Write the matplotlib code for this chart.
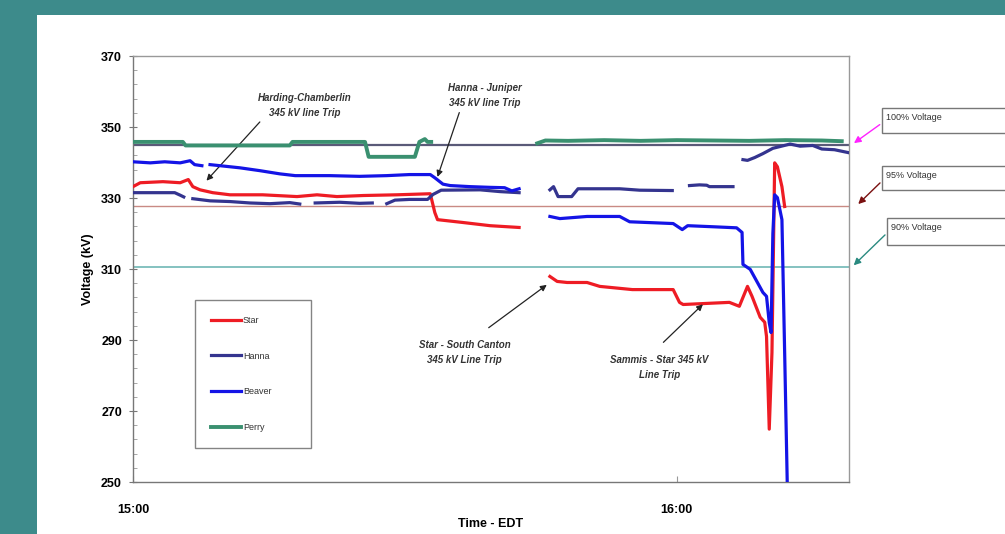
import numpy as np
import matplotlib
matplotlib.use("Agg")
import matplotlib.pyplot as plt
from matplotlib.patches import Rectangle

nan = np.nan

# time in minutes after 15:00, voltage in kV
star_t = [0, 0.8, 3.3, 5.2, 6.1, 6.6, 7.4, 8.8, 10.7, 14.3, 18.1, 20.3, 22.5, 25.4, 29.1, 32.8,
          33.3, 33.6, 36.4, 39.4, 42.6, nan,
          46.0, 46.8, 47.9, 50.1, 51.5, 55.1, 59.6, 60.3, 60.7, 65.8, 66.9, 67.8, 68.3, 69.2,
          69.7, 69.9, 70.2, 70.5, 70.8, 71.1, 71.6, 71.9]
star_v = [333.2, 334.3, 334.6, 334.3, 335.2, 333.2, 332.3, 331.5, 330.9, 330.9, 330.4, 330.9, 330.4, 330.7, 330.9, 331.2,
          325.9, 323.9, 323.1, 322.2, 321.7, nan,
          307.9, 306.5, 306.2, 306.2, 305.1, 304.2, 304.2, 300.6, 300.0, 300.6, 299.5, 305.1, 302.3, 296.4,
          295.0, 291.0, 264.9, 286.5, 339.9, 338.8, 333.2, 327.6]

hanna_t = [0, 4.6, 5.2, 5.6, nan, 6.6, 8.5, 10.7, 12.9, 15.1, 17.3, 18.4, nan, 20.1, 22.8, 25.0, 26.4, nan,
           28.0, 28.9, 30.5, 32.5, 33.1, 34.0, 38.3, 40.5, 42.6, nan,
           46.0, 46.4, 46.9, 48.4, 49.1, 53.7, 55.9, 59.5, nan,
           61.4, 62.5, 63.3, 63.6, 66.2, nan,
           67.3, 67.8, 68.6, 69.5, 70.6, 71.4, 72.5, 73.6, 75.0, 76.0, 77.4, 78.9]
hanna_v = [331.5, 331.5, 330.8, 330.3, nan, 329.8, 329.2, 329.0, 328.6, 328.4, 328.7, 328.3, nan, 328.6, 328.8, 328.5, 328.6, nan,
           328.4, 329.4, 329.6, 329.6, 331.0, 332.2, 332.3, 331.8, 331.5, nan,
           332.3, 333.2, 330.4, 330.4, 332.6, 332.6, 332.2, 332.1, nan,
           333.5, 333.7, 333.6, 333.2, 333.2, nan,
           340.8, 340.6, 341.4, 342.5, 344.0, 344.5, 345.2, 344.6, 344.8, 343.8, 343.6, 342.8]

beaver_t = [0, 1.9, 3.5, 5.2, 6.3, 6.8, 7.6, nan,
            8.5, 9.6, 11.8, 14.0, 16.2, 17.9, 21.7, 25.0, 28.0, 30.5, 32.8, 33.3, 34.2, 35.0, 37.2, 39.4,
            41.0, 41.8, 42.6, nan,
            46.0, 47.1, 50.1, 53.7, 54.8, 59.6, 60.6, 61.2, 64.0, 66.6, 67.2, 67.3, 68.1, 69.5, 69.9,
            70.2, 70.4, 70.6, 70.8, 71.1, 71.6, 71.9, 72.2]
beaver_v = [340.2, 339.9, 340.2, 339.9, 340.5, 339.4, 339.1, nan,
            339.4, 339.1, 338.5, 337.7, 336.8, 336.3, 336.3, 336.1, 336.3, 336.6, 336.6, 335.7, 333.9, 333.5, 333.2, 333.0,
            332.9, 332.0, 332.6, nan,
            324.8, 324.2, 324.8, 324.8, 323.3, 322.8, 321.1, 322.2, 321.9, 321.6, 320.3, 311.3, 309.9, 303.4, 302.3,
            294.9, 292.1, 320.0, 330.9, 330.1, 323.9, 286.5, 248.0]

perry_t = [0, 5.5, 5.8, 17.3, 17.6, 25.6, 26.0, 31.1, 31.6, 32.2, 32.5, 32.9, nan,
           44.6, 45.5, 48, 52, 56, 60, 64, 68, 72, 76, 78.2]
perry_v = [345.8, 345.8, 344.8, 344.8, 345.8, 345.8, 341.6, 341.6, 345.8, 346.6, 345.8, 345.8, nan,
           345.4, 346.2, 346.1, 346.3, 346.1, 346.3, 346.2, 346.1, 346.3, 346.2, 346.0]

ref_levels = [345.0, 327.75, 310.5]
ref_labels = ['100% Voltage', '95% Voltage', '90% Voltage']

plt.rcParams['font.family'] = ['Liberation Sans', 'DejaVu Sans']

fig = plt.figure(figsize=(10.05, 5.34), dpi=100, facecolor='#3d8b8b')
fig.add_artist(Rectangle((37 / 1005, 0), 1, 1 - 15 / 534, transform=fig.transFigure,
                         facecolor='white', edgecolor='none', zorder=0))
ax = fig.add_axes([133 / 1005, 1 - 482 / 534, 716 / 1005, 426 / 534])
ax.set_facecolor('white')

# reference voltage lines
ax.axhline(ref_levels[0], color='#5a5a78', lw=1.6, zorder=1)
ax.axhline(ref_levels[1], color='#c98a84', lw=1.0, zorder=1)
ax.axhline(ref_levels[2], color='#6fb8b5', lw=1.2, zorder=1)

ax.plot(star_t, star_v, color='#ee1c24', lw=2.3, label='Star', zorder=3)
ax.plot(hanna_t, hanna_v, color='#34348f', lw=2.3, label='Hanna', zorder=3)
ax.plot(beaver_t, beaver_v, color='#1414e6', lw=2.3, label='Beaver', zorder=4)
ax.plot(perry_t, perry_v, color='#3a9070', lw=2.8, label='Perry', zorder=5)

ax.set_xlim(0, 79)
ax.set_ylim(250, 370)
ax.set_yticks(np.arange(250, 371, 20))
ax.set_yticks(np.arange(250, 371, 4), minor=True)
ax.set_xticks([0, 60])
ax.set_xticklabels(['15:00', '16:00'])
ax.tick_params(axis='y', which='major', direction='inout', length=6, color='#777777', pad=5)
ax.tick_params(axis='y', which='minor', direction='in', length=3, color='#999999')
ax.tick_params(axis='x', which='major', direction='in', length=4, color='#999999', pad=16)
for lab in ax.get_xticklabels() + ax.get_yticklabels():
    lab.set_fontweight('bold')
    lab.set_fontsize(9)
for s in ax.spines.values():
    s.set_color('#999999')
    s.set_linewidth(1.0)
ax.spines['left'].set_color('#777777')
ax.spines['bottom'].set_color('#777777')

ax.set_ylabel('Voltage (kV)', fontsize=9, fontweight='bold', labelpad=5)
ax.set_xlabel('Time - EDT', fontsize=9, fontweight='bold', labelpad=1)

# event annotations
note_kw = dict(fontsize=7, fontstyle='italic', fontweight='bold', color='#333333',
               ha='center', va='center', linespacing=1.6)
arrow_kw = dict(arrowstyle='-|>', color='#222222', lw=0.9, mutation_scale=9)
ax.text(19.0, 356.1, 'Harding-Chamberlin\n345 kV line Trip', **note_kw)
ax.annotate('', xy=(7.9, 334.3), xytext=(14.2, 352.0), arrowprops=arrow_kw)
ax.text(38.8, 358.9, 'Hanna - Juniper\n345 kV line Trip', **note_kw)
ax.annotate('', xy=(33.5, 335.2), xytext=(36.1, 354.8), arrowprops=arrow_kw)
ax.text(36.6, 286.4, 'Star - South Canton\n345 kV Line Trip', **note_kw)
ax.annotate('', xy=(45.9, 306.0), xytext=(39.0, 293.0), arrowprops=arrow_kw)
ax.text(58.1, 282.3, 'Sammis - Star 345 kV\nLine Trip', **note_kw)
ax.annotate('', xy=(63.1, 300.6), xytext=(58.3, 288.8), arrowprops=arrow_kw)

# reference-line callout boxes on the right
box_px = [(882, 108, 133), (882, 166, 190), (887, 218, 245)]
arrow_cols = ['#ff22ff', '#7a1010', '#2a8a80']
head_x = [79.3, 79.8, 79.3]
for (bx, top, bot), txt, col, lvl, hx in zip(box_px, ref_labels, arrow_cols, ref_levels, head_x):
    fig.add_artist(Rectangle((bx / 1005, 1 - bot / 534), (1010 - bx) / 1005, (bot - top) / 534,
                             transform=fig.transFigure, facecolor='white',
                             edgecolor='#777777', lw=1.0, zorder=6))
    fig.text((bx + 4) / 1005, 1 - (top + 9) / 534, txt, fontsize=6.5, color='#333333',
             ha='left', va='center', zorder=7)
    ax.annotate('', xy=(hx, lvl), xycoords='data',
                xytext=(bx, 534 - (top + 15)), textcoords='figure pixels',
                arrowprops=dict(arrowstyle='-|>', color=col, lw=1.0, mutation_scale=10),
                annotation_clip=False)

leg = ax.legend(loc='upper left', bbox_to_anchor=(0.0866, 0.0869, 0.162, 0.341), mode='expand',
                frameon=True, fancybox=False, edgecolor='#666666', fontsize=6.5,
                labelspacing=2.95, handlelength=3.3, handletextpad=0.2, borderpad=1.8,
                borderaxespad=0)
leg.get_frame().set_linewidth(1.0)
for t in leg.get_texts():
    t.set_color('#333333')

fig.savefig('out.png', dpi=100, facecolor=fig.get_facecolor())
